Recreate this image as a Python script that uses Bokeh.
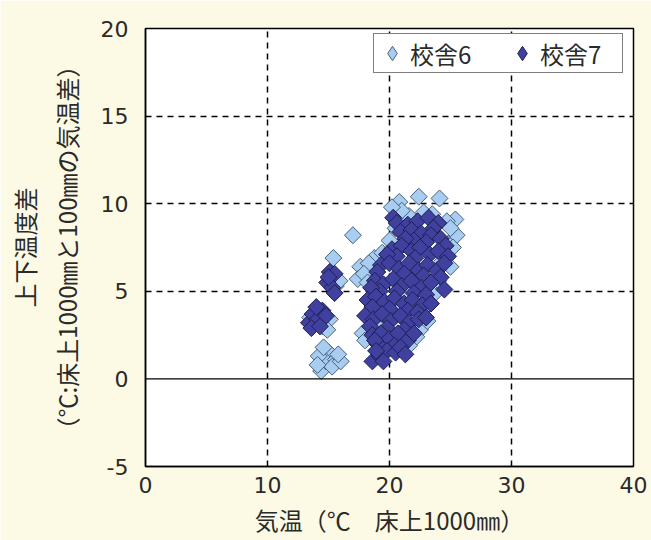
import numpy as np
from bokeh.plotting import figure
from bokeh.models import FixedTicker, Span, Legend, LegendItem
from bokeh.embed import file_html
from bokeh.resources import INLINE

# 校舎6 (light blue)
s6_x = [17.0, 22.4, 24.1, 20.8, 25.4, 25.5, 23.5, 21.6, 22.8, 24.7, 25.0, 21.0, 20.2, 24.8, 25.2, 24.3, 25.0, 24.0,
        15.4, 17.6, 17.4, 18.75, 18.3, 17.9, 18.2, 19.4,
        17.8, 18.0, 22.5, 22.8, 23.1, 22.2, 21.6,
        14.4, 15.05, 14.8, 15.6, 14.2, 15.3, 16.0, 14.6, 15.8, 14.1,
        14.5, 15.1, 14.9, 13.5, 15.6, 15.9,
        20.5, 22.0, 21.3, 20.8, 19.5, 23.6, 20.0]
s6_y = [8.2, 10.4, 10.3, 10.1, 9.1, 8.2, 9.4, 9.3, 9.5, 9.0, 8.6, 9.6, 9.8, 7.7, 7.5, 6.7, 6.4, 5.6,
        6.9, 6.4, 5.7, 6.9, 6.6, 6.0, 5.5, 7.2,
        2.6, 2.2, 2.8, 4.0, 3.3, 2.4, 1.9,
        0.45, 1.5, 1.0, 1.1, 1.3, 0.7, 1.0, 1.8, 1.4, 0.8,
        3.0, 3.4, 2.8, 3.5, 5.3, 5.6,
        8.6, 7.6, 5.0, 3.9, 3.0, 4.8, 7.9]

# 校舎7 (dark blue)
s7_x = [20.3, 20.6, 21.5, 22.3, 23.2, 24.0, 23.6,
        20.9, 21.8, 22.6, 23.4, 24.2, 22.0, 23.0, 24.6, 21.3,
        20.2, 21.0, 21.8, 22.5, 23.3, 24.0, 20.6, 22.1, 24.8, 19.8,
        19.3, 20.0, 20.8, 21.6, 22.4, 23.1, 23.9, 24.5, 19.0, 21.2, 22.8, 24.2,
        18.8, 19.5, 20.3, 21.0, 21.8, 22.6, 23.4, 24.5, 19.2, 20.6, 22.0, 23.0, 18.5,
        18.2, 18.9, 19.6, 20.4, 21.2, 21.9, 22.7, 23.4, 18.6, 20.0, 21.5, 22.3,
        18.0, 18.7, 19.4, 20.1, 20.9, 21.6, 22.4, 18.4, 19.8, 21.2, 23.0,
        18.6, 19.3, 20.0, 20.7, 21.5, 22.0, 19.0, 20.4, 18.8,
        18.6, 19.2, 19.8, 20.5, 19.5, 20.9, 18.9, 21.3,
        13.4, 13.7, 14.1, 14.5, 14.0, 14.8, 13.6, 14.3,
        15.1, 15.5, 14.9, 15.3, 15.5, 15.0]
s7_y = [9.2, 8.9, 8.8, 9.0, 9.2, 8.9, 8.6,
        8.4, 8.5, 8.3, 8.2, 8.0, 7.9, 7.8, 7.6, 8.0,
        7.4, 7.6, 7.3, 7.5, 7.1, 7.3, 7.0, 6.9, 7.0, 7.1,
        6.5, 6.6, 6.3, 6.6, 6.2, 6.5, 6.2, 6.6, 6.1, 6.0, 5.9, 5.8,
        5.6, 5.4, 5.7, 5.3, 5.6, 5.2, 5.5, 5.1, 5.0, 5.0, 4.9, 4.8, 5.2,
        4.5, 4.7, 4.4, 4.6, 4.3, 4.5, 4.2, 4.3, 4.1, 4.0, 3.9, 3.8,
        3.6, 3.4, 3.7, 3.3, 3.6, 3.2, 3.4, 3.0, 2.9, 2.8, 3.5,
        2.5, 2.6, 2.3, 2.6, 2.2, 2.6, 2.0, 1.9, 2.2,
        1.0, 1.3, 1.6, 1.5, 1.0, 1.8, 1.6, 1.4,
        3.2, 3.7, 3.4, 3.9, 4.1, 3.6, 2.9, 3.0,
        6.1, 6.0, 5.5, 5.2, 4.9, 5.8]

x_ticks = [0, 10, 20, 30, 40]
y_ticks = [-5, 0, 5, 10, 15, 20]
series_names = ["校舎6", "校舎7"]

CJK = "Noto Sans CJK JP"
NUM = "DejaVu Sans"
C6_FILL, C6_LINE = "#a8cdf0", "#45607e"
C7_FILL, C7_LINE = "#40409e", "#1e1e55"

p = figure(width=651, height=540, x_range=(0, 40), y_range=(-5, 20),
           output_backend="svg", toolbar_location=None,
           min_border_left=145, min_border_right=18, min_border_top=28, min_border_bottom=74)
p.background_fill_color = "white"
p.border_fill_color = "#fcfae4"
p.outline_line_color = "black"
p.outline_line_width = 1.5

for ax in (p.xaxis[0], p.yaxis[0]):
    ax.major_tick_line_color = None
    ax.minor_tick_line_color = None
    ax.axis_line_color = "black"
    ax.axis_line_width = 1.5
    ax.major_label_text_font = NUM
    ax.major_label_text_font_size = "22px"
    ax.major_label_text_color = "#2a2a2a"
    ax.axis_label_text_font = CJK
    ax.axis_label_text_font_size = "24px"
    ax.axis_label_text_font_style = "normal"
    ax.axis_label_text_color = "#2a2a2a"

p.xaxis.ticker = FixedTicker(ticks=x_ticks)
p.yaxis.ticker = FixedTicker(ticks=y_ticks)
p.yaxis.major_label_overrides = {t: str(t) for t in y_ticks}
p.xaxis.major_label_standoff = 4
p.yaxis.major_label_standoff = 11
p.xaxis.axis_label = "気温（℃　床上1000㎜）"
p.xaxis.axis_label_standoff = 6
p.yaxis.axis_label = "上下温度差\n（℃:床上1000㎜と100㎜の気温差）"
p.yaxis.axis_label_standoff = 14

p.xgrid.ticker = FixedTicker(ticks=[10, 20, 30])
p.ygrid.ticker = FixedTicker(ticks=[5, 10, 15])
for g in (p.xgrid[0], p.ygrid[0]):
    g.grid_line_color = "black"
    g.grid_line_width = 1.5
    g.grid_line_dash = "6 5"

p.add_layout(Span(location=0, dimension="width", line_color="black", line_width=1.2))

r6 = p.scatter(s6_x, s6_y, marker="square", angle=np.pi / 4, size=12,
               fill_color=C6_FILL, line_color=C6_LINE, line_width=1)
r7 = p.scatter(s7_x, s7_y, marker="square", angle=np.pi / 4, size=12,
               fill_color=C7_FILL, line_color=C7_LINE, line_width=1)

# hidden key renderers (same data) so the legend shows diamonds
k6 = p.scatter(s6_x, s6_y, marker="diamond", fill_color=C6_FILL, line_color=C6_LINE,
               line_width=1, visible=False)
k7 = p.scatter(s7_x, s7_y, marker="diamond", fill_color=C7_FILL, line_color=C7_LINE,
               line_width=1, visible=False)

legend = Legend(items=[LegendItem(label=series_names[0], renderers=[k6]),
                       LegendItem(label=series_names[1], renderers=[k7])],
                orientation="horizontal", location=(228, 393))
legend.label_text_font = CJK
legend.label_text_font_size = "24px"
legend.label_text_color = "#2a2a2a"
legend.border_line_color = "black"
legend.border_line_width = 1.5
legend.background_fill_color = "white"
legend.background_fill_alpha = 1
legend.margin = 0
legend.padding = 0
legend.spacing = 12
legend.glyph_width = 36
legend.glyph_height = 38
legend.label_width = 82
legend.label_standoff = 0
p.add_layout(legend)

open("out.html", "w").write(file_html(p, INLINE))
